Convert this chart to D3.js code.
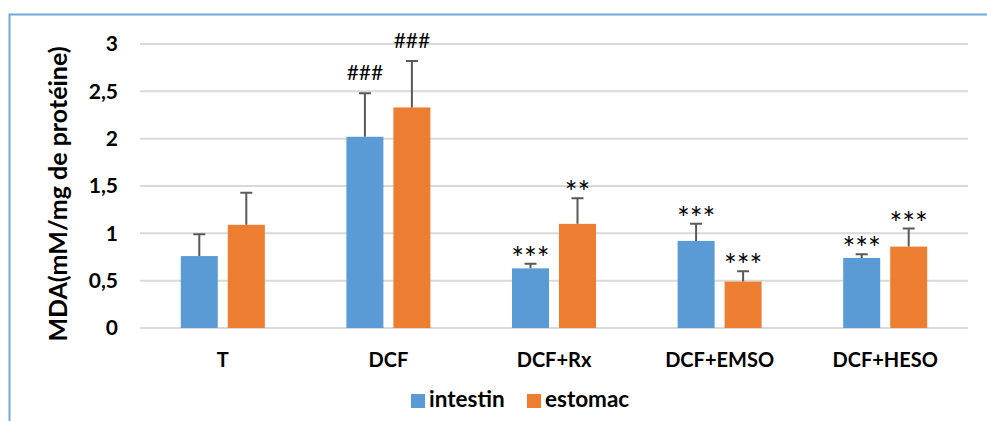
<!DOCTYPE html>
<html>
<head>
<meta charset="utf-8">
<script src="https://cdn.jsdelivr.net/npm/d3@7"></script>
<style>
  body { margin: 0; background: #fff; }
  svg text { font-family: Lato, "Open Sans", sans-serif; }
</style>
</head>
<body>
<div class="chart"></div>
<script>
// data
var groups = ["T", "DCF", "DCF+Rx", "DCF+EMSO", "DCF+HESO"];
var seriesNames = ["intestin", "estomac"];
var intestin = [0.76, 2.02, 0.63, 0.92, 0.74];
var estomac = [1.09, 2.33, 1.10, 0.49, 0.86];
var intestinErr = [0.23, 0.46, 0.05, 0.18, 0.04];
var estomacErr = [0.34, 0.49, 0.27, 0.11, 0.19];
var intestinMark = ["", "###", "***", "***", "***"];
var estomacMark = ["", "###", "**", "***", "***"];
var yTicks = [0, 0.5, 1, 1.5, 2, 2.5, 3];
var colors = ["#5b9bd5", "#ed7d31"];

var W = 987, H = 421;
var svg = d3.select("div.chart").append("svg")
    .attr("width", W).attr("height", H);

// frame
svg.append("path")
    .attr("d", "M9.5," + H + "V14.5H" + W)
    .attr("fill", "none")
    .attr("stroke", "#6fa8dc")
    .attr("stroke-width", 2);

var x = d3.scaleBand().domain(groups).range([140, 968]);
var y = d3.scaleLinear().domain([0, 3]).range([328, 44]);
var barW = 37, gap = 10;

// grid
svg.append("g").selectAll("line")
    .data(yTicks)
    .enter()
    .append("line")
    .attr("x1", 140).attr("x2", 968)
    .attr("y1", function(d){return y(d);})
    .attr("y2", function(d){return y(d);})
    .attr("stroke", "#d9d9d9")
    .attr("stroke-width", 2);

// y axis labels
var yAxis = d3.axisLeft(y).tickValues(yTicks).tickSize(0).tickPadding(0)
    .tickFormat(function(d){return String(d).replace(".", ",");});
var gy = svg.append("g").attr("transform", "translate(118,0)").call(yAxis);
gy.select(".domain").remove();
gy.selectAll("text")
    .attr("font-family", "Lato, sans-serif")
    .attr("font-size", 21)
    .attr("font-weight", "bold")
    .attr("fill", "#000");

// y title
svg.append("text")
    .attr("transform", "translate(67,194) rotate(-90)")
    .attr("text-anchor", "middle")
    .attr("font-size", 25)
    .attr("font-weight", "bold")
    .text("MDA(mM/mg de protéine)");

// x axis labels
var xAxis = d3.axisBottom(x).tickSize(0).tickPadding(0);
var gx = svg.append("g").attr("transform", "translate(0,352.5)").call(xAxis);
gx.select(".domain").remove();
gx.selectAll("text")
    .attr("font-family", "Lato, sans-serif")
    .attr("font-size", 20)
    .attr("font-weight", "bold")
    .attr("fill", "#000");

var series = [
    {name: seriesNames[0], vals: intestin, err: intestinErr, mark: intestinMark, off: -(barW + gap) / 2},
    {name: seriesNames[1], vals: estomac, err: estomacErr, mark: estomacMark, off: (barW + gap) / 2}
];

series.forEach(function(s, si){
    var cx = function(d, i){return x(groups[i]) + x.bandwidth() / 2 + s.off;};
    var g = svg.append("g");
    g.selectAll("rect")
        .data(s.vals)
        .enter()
        .append("rect")
        .attr("x", function(d, i){return cx(d, i) - barW / 2;})
        .attr("y", function(d){return y(d);})
        .attr("width", barW)
        .attr("height", function(d){return y(0) - y(d);})
        .attr("fill", colors[si]);
    // error bars
    g.selectAll("path.err")
        .data(s.vals)
        .enter()
        .append("path")
        .attr("class", "err")
        .attr("d", function(d, i){
            var c = cx(d, i), t = y(d + s.err[i]);
            return "M" + c + "," + y(d) + "V" + t + "M" + (c - 6) + "," + t + "H" + (c + 6);
        })
        .attr("stroke", "#595959")
        .attr("stroke-width", 2)
        .attr("fill", "none");
    // significance marks
    g.selectAll("text.mark")
        .data(s.vals)
        .enter()
        .append("text")
        .attr("class", "mark")
        .attr("x", function(d, i){return cx(d, i);})
        .attr("y", function(d, i){
            var t = y(d + s.err[i]);
            return s.mark[i].charAt(0) == "#" ? t - 13 : t + 5;
        })
        .attr("text-anchor", "middle")
        .attr("font-family", "'Liberation Sans', Arial, sans-serif")
        .attr("font-size", function(d, i){return s.mark[i].charAt(0) == "#" ? 21 : 30;})
        .attr("fill", "#000")
        .text(function(d, i){return s.mark[i];});
});

// legend
var legX = [411, 527];
var leg = svg.append("g").selectAll("g")
    .data(seriesNames)
    .enter()
    .append("g")
    .attr("transform", function(d, i){return "translate(" + legX[i] + ",394)";});
leg.append("rect")
    .attr("width", 14).attr("height", 14)
    .attr("fill", function(d, i){return colors[i];});
leg.append("text")
    .attr("x", 18).attr("y", 13)
    .attr("font-size", 22.5)
    .attr("font-weight", "bold")
    .text(function(d){return d;});
</script>
</body>
</html>
